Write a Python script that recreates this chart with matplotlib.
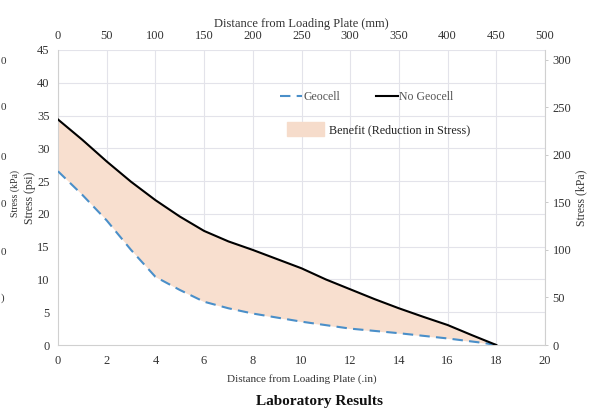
import matplotlib

matplotlib.use("Agg")
import matplotlib.pyplot as plt
from matplotlib.lines import Line2D
from matplotlib.patches import Patch

plt.rcParams["font.family"] = ["Liberation Serif", "DejaVu Serif"]

# distance from loading plate (in)
dist_no = [0, 1, 2, 3, 4, 5, 6, 7, 8, 9, 10, 11, 12, 13, 14, 15, 16, 17, 18]
stress_no = [34.4, 31.3, 28.0, 24.9, 22.1, 19.6, 17.4, 15.8, 14.5, 13.1, 11.7, 10.0, 8.5, 7.0, 5.6, 4.3, 3.05, 1.5, 0.0]
dist_geo = [0, 1, 2, 3, 4, 5, 6, 7, 8, 10, 12, 14, 16, 17.5, 18]
stress_geo = [26.5, 22.9, 19.0, 14.5, 10.4, 8.4, 6.6, 5.6, 4.8, 3.56, 2.5, 1.8, 1.0, 0.3, 0.0]

PSI_TO_KPA = 6.895
psi_ticks = list(range(0, 50, 5))
kpa_ticks = list(range(0, 350, 50))
in_ticks = list(range(0, 22, 2))
mm_ticks = list(range(0, 550, 50))

TEXT = "#333333"
GRID = "#e3e3ea"
W, H = 589, 411


def fx(px):
    return px / W


def fy(py):
    return 1 - py / H


fig = plt.figure(figsize=(5.89, 4.11), dpi=100)
ax = fig.add_axes([fx(58), fy(345), 487 / W, 295 / H])

ax.fill_between(dist_no, stress_no, [0] * len(dist_no), color="#f8dfcf", lw=0, zorder=1)
# blank out the region below the geocell curve
ax.fill_between(dist_geo, stress_geo, [0] * len(dist_geo), color="white", lw=0, zorder=1.5)
ax.plot(dist_geo, stress_geo, color="#4a8fc9", lw=1.5, ls=(0, (5, 3)), zorder=3)
ax.plot(dist_no, stress_no, color="black", lw=1.5, zorder=3)

ax.set_xlim(0, 20)
ax.set_ylim(0, 45)
ax.set_xticks(in_ticks)
ax.set_yticks(psi_ticks)
ax.grid(color=GRID, lw=0.8, zorder=0)
ax.set_axisbelow(True)
ax.tick_params(length=0, labelsize=9, colors=TEXT)
ax.tick_params(axis="x", pad=7)
ax.tick_params(axis="y", pad=6)
for s in ["top", "right"]:
    ax.spines[s].set_visible(False)
for s in ["left", "bottom"]:
    ax.spines[s].set_color("#d0d0d0")
ax.set_xlabel("Distance from Loading Plate (.in)", fontsize=8, color=TEXT, labelpad=5)
ax.set_ylabel("Stress (psi)", fontsize=8.5, color=TEXT, labelpad=1)

top = ax.twiny()
top.set_xlim(0, 500)
top.set_xticks(mm_ticks)
top.tick_params(length=0, labelsize=9, colors=TEXT, pad=6)
for s in top.spines.values():
    s.set_visible(False)
top.set_xlabel("Distance from Loading Plate (mm)", fontsize=9, color=TEXT, labelpad=2)

right = ax.twinx()
right.set_ylim(0, 45 * PSI_TO_KPA)
right.set_yticks(kpa_ticks)
right.tick_params(length=2.5, width=0.6, labelsize=9, colors=TEXT, pad=3)
right.tick_params(axis="y", color="#c0c0c0")
for s in ["top", "left", "bottom"]:
    right.spines[s].set_visible(False)
right.spines["right"].set_color("#d0d0d0")
right.set_ylabel("Stress (kPa)", fontsize=8.5, color=TEXT, labelpad=3)

line_handles = [
    Line2D([], [], color="#4a8fc9", lw=1.5, ls=(0, (5, 3))),
    Line2D([], [], color="black", lw=1.5),
]
fig.legend(line_handles, ["Geocell", "No Geocell"], ncol=2, frameon=False,
           loc="center left", bbox_to_anchor=(fx(280), fy(97)), fontsize=8.5,
           borderpad=0, borderaxespad=0, handlelength=1.9, handletextpad=0.1,
           columnspacing=3.0, labelcolor="#555555")
fig.legend([Patch(color="#f6dccb")], ["Benefit (Reduction in Stress)"], frameon=False,
           loc="center left", bbox_to_anchor=(fx(287), fy(129)), fontsize=8.7,
           borderpad=0, borderaxespad=0, handlelength=3.1, handleheight=1.5,
           handletextpad=0.35, labelcolor="#222222")

# clipped remnants of a neighbouring chart at the left edge
for y in [61, 108, 157, 204, 252]:
    fig.text(fx(0.5), fy(y), "0", fontsize=8, color=TEXT, va="center", ha="left")
fig.text(fx(1), fy(298), ")", fontsize=8, color=TEXT, va="center", ha="left")
fig.text(fx(15), fy(193), "Stress (kPa)", fontsize=7, color=TEXT,
         rotation=90, va="center", ha="center")

fig.text(fx(320), fy(401), "Laboratory Results", fontsize=11, weight="bold",
         ha="center", va="center", color="#111111")

fig.savefig("out.png", dpi=100)
